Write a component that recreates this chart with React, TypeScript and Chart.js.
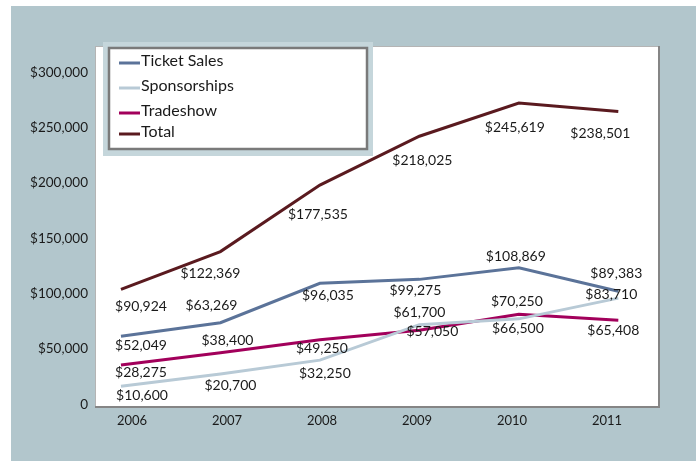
import { useEffect, useRef } from 'react';
import { Chart, registerables } from 'chart.js';

Chart.register(...registerables);

const years = [2006, 2007, 2008, 2009, 2010, 2011];
const ticketSales = [52049, 63269, 96035, 99275, 108869, 89383];
const sponsorships = [10600, 20700, 32250, 61700, 66500, 83710];
const tradeshow = [28275, 38400, 49250, 57050, 70250, 65408];
const total = [90924, 122369, 177535, 218025, 245619, 238501];
const yTickValues = [0, 50000, 100000, 150000, 200000, 250000, 300000];
const seriesNames = ['Ticket Sales', 'Sponsorships', 'Tradeshow', 'Total'];

const FONT = 'Lato, "Open Sans", sans-serif';
const COLORS = ['#5b7399', '#b8cad6', '#a2005b', '#5a1a1f'];

// label offsets relative to each point (dx, dy)
const LABEL_OFFSETS = [
  [[20, 9], [-9, -17], [8, 12], [-4, 11], [-3, -11], [-2, -18]],
  [[21, 9], [10, 11], [5, 13], [0, -12], [-1, 10], [-7, -4]],
  [[20, 8], [7, -12], [2, 9], [13, 1], [-2, -13], [-5, 10]],
  [[20, 17], [-10, 22], [-2, 29], [3, 24], [-4, 24], [-18, 22]],
];
const LEGEND_ROWS = [63, 88, 113, 134];

const money = (v: number) => (v === 0 ? '0' : '$' + v.toLocaleString('en-US'));

export default function App() {
  const ref = useRef<HTMLCanvasElement>(null);
  useEffect(() => {
    if (!ref.current) return;
    const bgPlugin = {
      id: 'bg',
      beforeDraw(chart: any) {
        const { ctx, chartArea: a } = chart;
        ctx.save();
        ctx.fillStyle = '#ffffff';
        ctx.fillRect(0, 0, chart.width, chart.height);
        ctx.fillStyle = '#b2c6cc';
        ctx.fillRect(11, 6, chart.width - 11, chart.height - 6);
        ctx.fillStyle = '#ffffff';
        ctx.fillRect(a.left, a.top, a.right - a.left, a.bottom - a.top);
        ctx.fillStyle = '#b4b4b4';
        ctx.fillRect(a.left - 1, a.top - 1, 1, a.bottom - a.top + 1);
        ctx.fillRect(a.left - 1, a.top - 1, a.right - a.left + 1, 1);
        ctx.fillStyle = '#858585';
        ctx.fillRect(a.right, a.top - 1, 2, a.bottom - a.top + 3);
        ctx.fillRect(a.left - 1, a.bottom, a.right - a.left + 3, 2);
        ctx.restore();
      },
    };
    const labelPlugin = {
      id: 'valueLabels',
      afterDatasetsDraw(chart: any) {
        const { ctx } = chart;
        ctx.save();
        ctx.font = `14px ${FONT}`;
        ctx.fillStyle = '#1a1a1a';
        ctx.textAlign = 'center';
        ctx.textBaseline = 'middle';
        chart.data.datasets.forEach((ds: any, di: number) => {
          const meta = chart.getDatasetMeta(di);
          meta.data.forEach((pt: any, i: number) => {
            const [dx, dy] = LABEL_OFFSETS[di][i];
            ctx.fillText(money(ds.data[i].y), pt.x + dx, pt.y + dy);
          });
        });
        ctx.restore();
      },
    };
    const legendPlugin = {
      id: 'boxLegend',
      afterDraw(chart: any) {
        const { ctx } = chart;
        ctx.save();
        ctx.fillStyle = '#c5d6db';
        ctx.fillRect(103, 42, 270, 114);
        ctx.fillStyle = '#ffffff';
        ctx.fillRect(108, 47, 260, 103);
        ctx.strokeStyle = '#7a7a7a';
        ctx.lineWidth = 2.5;
        ctx.strokeRect(109, 48, 258, 101);
        ctx.font = `16px ${FONT}`;
        ctx.textBaseline = 'middle';
        ctx.textAlign = 'left';
        chart.data.datasets.forEach((ds: any, i: number) => {
          const y = LEGEND_ROWS[i];
          ctx.strokeStyle = ds.borderColor;
          ctx.lineWidth = 3;
          ctx.beginPath();
          ctx.moveTo(119, y);
          ctx.lineTo(140, y);
          ctx.stroke();
          ctx.fillStyle = '#1a1a1a';
          ctx.fillText(ds.label, 141, y - 2);
        });
        ctx.restore();
      },
    };

    const seriesValues = [ticketSales, sponsorships, tradeshow, total];
    const chart = new Chart(ref.current, {
      type: 'line',
      data: {
        datasets: seriesValues.map((vals, i) => ({
          label: seriesNames[i],
          data: years.map((yr, j) => ({ x: yr, y: vals[j] })),
          borderColor: COLORS[i],
          backgroundColor: COLORS[i],
          borderWidth: 3,
          pointRadius: 0,
          tension: 0,
          fill: false,
          xAxisID: 'x',
          yAxisID: 'y',
        })),
      },
      options: {
        animation: false,
        responsive: false,
        layout: { padding: { left: 0, top: 47, right: 38, bottom: 0 } },
        plugins: { legend: { display: false }, tooltip: { enabled: false } },
        scales: {
          x: { type: 'linear', display: false, min: 2005.749, max: 2011.399 },
          y: { type: 'linear', display: false, min: -5810, max: 292100 },
          xLabels: {
            type: 'linear',
            position: 'bottom',
            min: 2005.621,
            max: 2011.537,
            grid: { display: false, drawTicks: false, tickLength: 0 },
            border: { display: false },
            afterBuildTicks: (s: any) => {
              s.ticks = years.map((v) => ({ value: v }));
            },
            afterFit: (s: any) => {
              s.height = 55;
            },
            ticks: {
              padding: 7,
              color: '#1a1a1a',
              font: { family: FONT, size: 13 },
              callback: (v: any) => String(v),
              maxRotation: 0,
              autoSkip: false,
            },
          },
          yLabels: {
            type: 'linear',
            position: 'left',
            min: -1343,
            max: 322800,
            grid: { display: false, drawTicks: false, tickLength: 0 },
            border: { display: false },
            afterBuildTicks: (s: any) => {
              s.ticks = yTickValues.map((v) => ({ value: v }));
            },
            afterFit: (s: any) => {
              s.width = 96;
            },
            ticks: {
              padding: 8,
              color: '#1a1a1a',
              font: { family: FONT, size: 13.5 },
              callback: (v: any) => money(Number(v)),
              autoSkip: false,
            },
          },
        },
      } as any,
      plugins: [bgPlugin, labelPlugin, legendPlugin],
    });
    return () => chart.destroy();
  }, []);
  return (
    <div style={{ position: 'absolute', left: 0, top: 0, width: 696, height: 461 }}>
      <canvas ref={ref} width={696} height={461} style={{ display: 'block' }} />
    </div>
  );
}
